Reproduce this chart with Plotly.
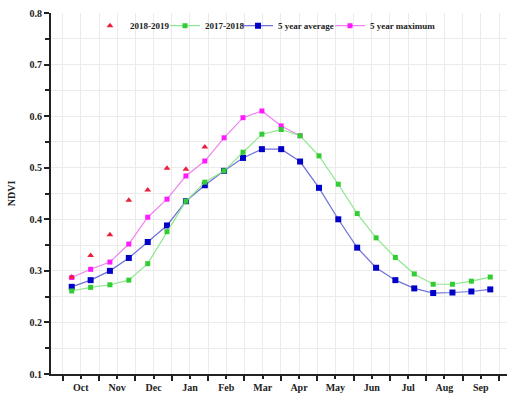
import plotly.graph_objects as go

# time position of each 16-day composite, in months since 1 October
period = [0.25, 0.77, 1.30, 1.82, 2.34, 2.87, 3.39, 3.91, 4.44, 4.96, 5.48, 6.01,
          6.53, 7.05, 7.58, 8.10, 8.62, 9.15, 9.67, 10.19, 10.72, 11.24, 11.76]

ndvi_2018_2019 = [0.288, 0.330, 0.370, 0.437, 0.457, 0.499, 0.497, 0.540]
ndvi_2017_2018 = [0.261, 0.268, 0.273, 0.282, 0.314, 0.376, 0.435, 0.472, 0.494, 0.530,
                  0.565, 0.574, 0.562, 0.523, 0.468, 0.411, 0.364, 0.326, 0.294, 0.274,
                  0.274, 0.280, 0.288]
ndvi_5yr_avg = [0.269, 0.282, 0.300, 0.325, 0.356, 0.388, 0.435, 0.466, 0.494, 0.519,
                0.536, 0.536, 0.512, 0.461, 0.400, 0.345, 0.306, 0.282, 0.266, 0.257,
                0.258, 0.260, 0.264]
ndvi_5yr_max = [0.287, 0.303, 0.317, 0.352, 0.404, 0.439, 0.484, 0.513, 0.558, 0.597,
                0.610, 0.581, 0.562]

months = ["Oct", "Nov", "Dec", "Jan", "Feb", "Mar", "Apr", "May", "Jun", "Jul", "Aug", "Sep"]
month_mid = [0.5 + i for i in range(12)]
month_start = [float(i) for i in range(13)]
y_ticks = [0.1, 0.2, 0.3, 0.4, 0.5, 0.6, 0.7, 0.8]

FONT = "Liberation Serif"
W, H = 507, 394
ML, MR, MT, MB = 51, 0, 13, 20

fig = go.Figure()
fig.add_trace(go.Scatter(
    x=period[:len(ndvi_5yr_max)], y=ndvi_5yr_max, name="5 year maximum", mode="lines+markers",
    line=dict(color="#ee82ee", width=1.2),
    marker=dict(symbol="square", size=5, color="#ff1aff"), legend="legend4"))
fig.add_trace(go.Scatter(
    x=period, y=ndvi_5yr_avg, name="5 year average", mode="lines+markers",
    line=dict(color="#7070d8", width=1.2),
    marker=dict(symbol="square", size=6, color="#0000c8"), legend="legend3"))
fig.add_trace(go.Scatter(
    x=period, y=ndvi_2017_2018, name="2017-2018", mode="lines+markers",
    line=dict(color="#8ee88e", width=1.2),
    marker=dict(symbol="square", size=5, color="#33cc33"), legend="legend2"))
fig.add_trace(go.Scatter(
    x=period[:len(ndvi_2018_2019)], y=ndvi_2018_2019, name="2018-2019", mode="markers",
    marker=dict(symbol="triangle-up", size=6, color="#e8203a"), legend="legend"))

plot_w = W - ML - MR


def leg(px_left):
    return dict(orientation="h", x=(px_left - ML) / plot_w, xanchor="left",
                y=0.965, yanchor="middle", bgcolor="rgba(0,0,0,0)",
                font=dict(family=FONT, size=9, weight="bold", color="#222222"),
                itemwidth=30)


fig.update_layout(
    width=W, height=H,
    margin=dict(l=ML, r=MR, t=MT, b=MB),
    paper_bgcolor="white", plot_bgcolor="white",
    font=dict(family=FONT, size=10, color="#222222", weight="bold"),
    showlegend=True,
    legend=leg(90), legend2=leg(165), legend3=leg(238), legend4=leg(330),
)

fig.update_xaxes(
    range=[-0.32, 12.22],
    tickmode="array", tickvals=month_mid, ticktext=months,
    showgrid=True, gridcolor="#ebebeb", gridwidth=1,
    ticks="outside", ticklen=3, tickwidth=1.5, tickcolor="#222222",
    minor=dict(tickmode="array", tickvals=month_start, showgrid=True, gridcolor="#ebebeb",
               ticks="outside", ticklen=5, tickwidth=1.5, tickcolor="#222222"),
    showline=True, linecolor="#222222", linewidth=2,
    zeroline=False, tickfont=dict(family=FONT, size=10, weight="bold"),
)
fig.update_yaxes(
    range=[0.1, 0.8],
    tickmode="array", tickvals=y_ticks, ticktext=[f"{v:.1f}" for v in y_ticks],
    showgrid=True, gridcolor="#ebebeb", gridwidth=1,
    ticks="outside", ticklen=5, tickwidth=1.5, tickcolor="#222222",
    minor=dict(dtick=0.05, tick0=0.05, showgrid=True, gridcolor="#ebebeb",
               ticks="outside", ticklen=4, tickwidth=1.5, tickcolor="#222222"),
    showline=True, linecolor="#222222", linewidth=2,
    zeroline=False, tickfont=dict(family=FONT, size=10, weight="bold"),
    title=dict(text="NDVI", font=dict(family=FONT, size=10, weight="bold"), standoff=12),
)

fig.write_html("out.html", config={"displayModeBar": False},
               post_script="document.body.style.margin='0';")
